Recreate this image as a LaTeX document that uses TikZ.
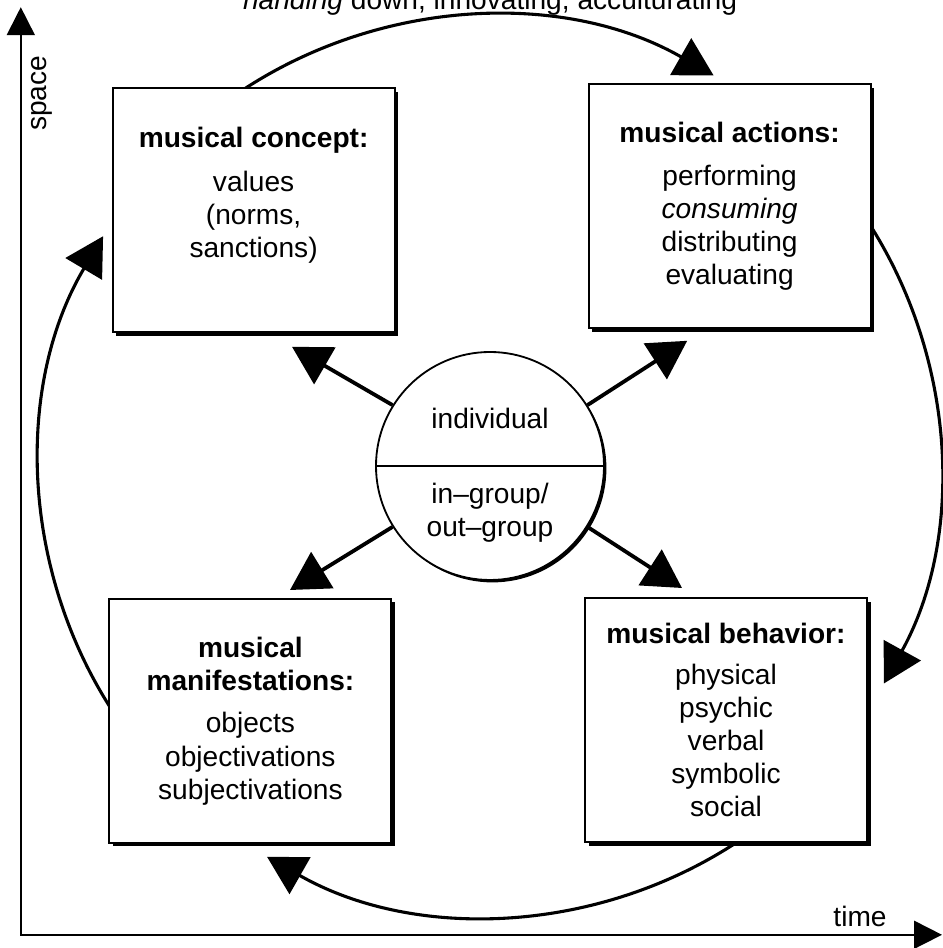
\documentclass[tikz,border=0pt]{standalone}
\usepackage{fontspec}
\setmainfont{Liberation Sans}
\usetikzlibrary{arrows.meta,shadows}

\begin{document}
\begin{tikzpicture}[
    font=\fontsize{20}{23.5}\selectfont,
    box/.style={shape=rectangle, draw=black, line width=1.4pt, fill=white,
        minimum width=7.05cm, minimum height=6.1cm, align=center,
        drop shadow={shadow xshift=0.09cm, shadow yshift=-0.09cm, fill=black, opacity=1}},
    ring/.style={shape=circle, draw=black, line width=1.3pt, fill=white,
        minimum size=5.7cm, inner sep=0pt,
        drop shadow={shadow xshift=0.06cm, shadow yshift=-0.06cm, fill=black, opacity=1}},
    spoke/.style={-{Triangle[length=0.95cm,width=1.05cm]}, line width=2.7pt},
    roundarc/.style={-{Triangle[length=0.95cm,width=1.05cm]}, line width=2.2pt},
    axisline/.style={{Triangle[length=0.7cm,width=0.7cm]}-{Triangle[length=0.7cm,width=0.7cm]}, line width=1.3pt}
]
    \useasboundingbox (0,0) rectangle (23.55,23.7);

    % axes
    \coordinate (spacetip) at (0.52, 23.52);
    \coordinate (timetip)  at (23.55, 0.33);
    \draw[axisline] (spacetip) |- (timetip);
    \node[rotate=90] (spacelabel) at (1.05, 21.37) {space};
    \node (timelabel) at (21.5, 0.8) {time};
    \node[anchor=base] (toplabel) at (12.25, 23.47) {\textit{handing} down, innovating, acculturating};

    % outer cycle
    \coordinate (hub) at (12.25, 12.05);
    \draw[roundarc] ([shift={(123:11.25)}]hub) arc[start angle=123, end angle=60.2, radius=11.25];
    \draw[roundarc] ([shift={(32:11.25)}]hub) arc[start angle=32, end angle=-28.9, radius=11.25];
    \draw[roundarc] ([shift={(-57:11.25)}]hub) arc[start angle=-57, end angle=-119.7, radius=11.25];
    \draw[roundarc] ([shift={(213:11.25)}]hub) arc[start angle=213, end angle=149.3, radius=11.25];

    \node[box] (concept) at (6.34, 18.45)
        {\textbf{musical concept:}\\[8pt] values\\(norms,\\sanctions)\\[2pt]\mbox{}};
    \node[box] (actions) at (18.24, 18.54)
        {\textbf{musical actions:}\\[7pt] performing\\\textit{consuming}\\distributing\\evaluating};
    \node[box] (manifest) at (6.26, 5.68)
        {\textbf{musical}\\\textbf{manifestations:}\\[7pt] objects\\objectivations\\subjectivations};
    \node[box] (behavior) at (18.15, 5.7)
        {\textbf{musical behavior:}\\[6pt] physical\\psychic\\verbal\\symbolic\\social};

    % centre
    \node[ring] (self) at (hub) {};
    \draw[line width=1.3pt] (self.west) -- (self.east);
    \node (indiv) at (12.25, 13.25) {individual};
    \node[align=center] (group) at (12.25, 10.89) {in–group/\\out–group};

    \coordinate (tipconcept)  at (7.3, 15.03);
    \coordinate (tipactions)  at (17.18, 15.18);
    \coordinate (tipmanifest) at (7.25, 8.95);
    \coordinate (tipbehavior) at (17.05, 9.0);

    \path[spoke] (self.148) edge (tipconcept);
    \path[spoke] (self.32)  edge (tipactions);
    \path[spoke] (self.212) edge (tipmanifest);
    \path[spoke] (self.-32) edge (tipbehavior);

\end{tikzpicture}
\end{document}
